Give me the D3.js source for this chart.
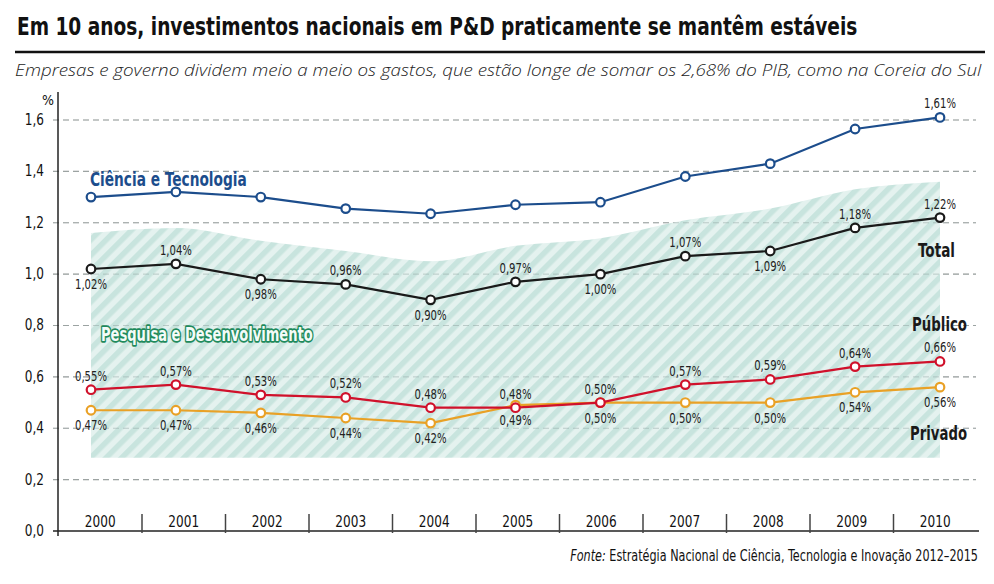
<!DOCTYPE html>
<html><head><meta charset="utf-8">
<script src="https://cdn.jsdelivr.net/npm/d3@7"></script>
<style>
body{margin:0;background:#fff;}
svg{display:block;}
</style></head>
<body>
<svg id="chart" width="994" height="584"></svg>
<script>
const years = ["2000","2001","2002","2003","2004","2005","2006","2007","2008","2009","2010"];
const cienciaTecnologia = [1.30,1.32,1.30,1.255,1.235,1.27,1.28,1.38,1.43,1.565,1.61];
const total   = [1.02,1.04,0.98,0.96,0.90,0.97,1.00,1.07,1.09,1.18,1.22];
const publico = [0.55,0.57,0.53,0.52,0.48,0.48,0.50,0.57,0.59,0.64,0.66];
const privado = [0.47,0.47,0.46,0.44,0.42,0.49,0.50,0.50,0.50,0.54,0.56];
const rdBandTop = [1.16,1.18,1.13,1.09,1.05,1.11,1.14,1.21,1.255,1.33,1.36];
const rdBandBottom = [0.285,0.285,0.285,0.285,0.285,0.285,0.285,0.285,0.285,0.285,0.285];
const yTicks = [0,0.2,0.4,0.6,0.8,1.0,1.2,1.4,1.6];
const totalLabelAbove = [false,true,false,true,false,true,false,true,false,true,true];

const COND = "'DejaVu Sans Condensed','Liberation Sans Narrow',sans-serif";
const SQ = 0.84;
const svg = d3.select("#chart");

const x = d3.scalePoint().domain(years).range([91, 940]);
const xb = d3.scaleBand().domain(years).range([58.5, 977]);
const y = d3.scaleLinear().domain([0, 1.6]).range([531, 120]);

// horizontal squeeze about the anchor x
function squeezeBy(sel, f){
  sel.each(function(){
    const n = d3.select(this); const ax = +n.attr("x");
    n.attr("transform", `translate(${ax},0) scale(${f},1) translate(${-ax},0)`);
  });
  return sel;
}
function fitWidth(sel, w){
  const l = sel.node().getComputedTextLength();
  return squeezeBy(sel, l>0 ? w/l : 1);
}

// Title
const t = svg.append("text").attr("x",17).attr("y",35).attr("font-family",COND)
  .attr("font-weight","bold").attr("font-size",25).attr("fill","#111")
  .text("Em 10 anos, investimentos nacionais em P&D praticamente se mantêm estáveis");
fitWidth(t, 841);
svg.append("line").attr("x1",15).attr("x2",985).attr("y1",52).attr("y2",52).attr("stroke","#111").attr("stroke-width",2.5);
const st = svg.append("text").attr("x",15).attr("y",76).attr("font-family","'Open Sans','Noto Sans',sans-serif")
  .attr("font-style","italic").attr("font-weight",300).attr("font-size",17).attr("fill","#222")
  .text("Empresas e governo dividem meio a meio os gastos, que estão longe de somar os 2,68% do PIB, como na Coreia do Sul");
fitWidth(st, 967);

// pattern
const defs = svg.append("defs");
const pat = defs.append("pattern").attr("id","hatch").attr("patternUnits","userSpaceOnUse")
  .attr("width",11).attr("height",11).attr("patternTransform","rotate(45)");
pat.append("rect").attr("width",11).attr("height",11).attr("fill","#e4f2ef");
pat.append("rect").attr("width",5.5).attr("height",11).attr("fill","#c8e4de");

// grid
svg.append("g").selectAll("line").data(yTicks.filter(d=>d>0)).join("line")
  .attr("x1",53).attr("x2",976).attr("y1",d=>y(d)).attr("y2",d=>y(d))
  .attr("stroke","#a9a9a9").attr("stroke-width",1.2).attr("stroke-dasharray","6,4");

// R&D band
const bandData = years.map((yr,i)=>({yr, top:rdBandTop[i], bot:rdBandBottom[i]}));
svg.append("path").datum(bandData)
  .attr("d", d3.area().x(d=>x(d.yr)).y0(d=>y(d.bot)).y1(d=>y(d.top)).curve(d3.curveMonotoneX))
  .attr("fill","url(#hatch)");

// grid over band faint
svg.append("g").selectAll("line").data(yTicks.filter(d=>d>0)).join("line")
  .attr("x1",53).attr("x2",976).attr("y1",d=>y(d)).attr("y2",d=>y(d))
  .attr("stroke","#8a9c98").attr("stroke-opacity",0.45).attr("stroke-width",1).attr("stroke-dasharray","6,4");

// axes
svg.append("line").attr("x1",58).attr("x2",58).attr("y1",92).attr("y2",536).attr("stroke","#222").attr("stroke-width",1.5);
svg.append("line").attr("x1",53).attr("x2",979).attr("y1",531).attr("y2",531).attr("stroke","#222").attr("stroke-width",1.5);
svg.append("g").selectAll("line").data(years.slice(1)).join("line")
  .attr("x1",d=>xb(d)).attr("x2",d=>xb(d)).attr("y1",514).attr("y2",533)
  .attr("stroke","#444").attr("stroke-width",1.5);
squeezeBy(svg.append("g").selectAll("text").data(years).join("text")
  .attr("x",d=>xb(d)+xb.bandwidth()/2).attr("y",527).attr("text-anchor","middle")
  .attr("font-family",COND).attr("font-size",16).attr("fill","#111").text(d=>d), SQ);
squeezeBy(svg.append("g").selectAll("text").data(yTicks).join("text")
  .attr("x",44).attr("y",d=>y(d)+5).attr("text-anchor","end")
  .attr("font-family",COND).attr("font-size",16).attr("fill","#111")
  .text(d=>d3.format(".1f")(d).replace(".",",")), SQ);
svg.append("text").attr("x",48).attr("y",105).attr("text-anchor","middle")
  .attr("font-family",COND).attr("font-size",14).attr("fill","#111").text("%");

// series
const fmt = v => d3.format(".2f")(v).replace(".",",")+"%";
function series(vals, color){
  const d = years.map((yr,i)=>({yr, v:vals[i]}));
  svg.append("path").datum(d).attr("d", d3.line().x(p=>x(p.yr)).y(p=>y(p.v)))
    .attr("fill","none").attr("stroke",color).attr("stroke-width",2.2);
  svg.append("g").selectAll("circle").data(d).join("circle")
    .attr("cx",p=>x(p.yr)).attr("cy",p=>y(p.v)).attr("r",4.3)
    .attr("fill","#fff").attr("stroke",color).attr("stroke-width",2.2);
  return d;
}
function labels(vals, aboveArr, filterIdx){
  const sel = svg.append("g").selectAll("text").data(years.map((yr,i)=>({yr,v:vals[i],i})).filter(p=>!filterIdx||filterIdx.includes(p.i))).join("text")
    .attr("x",p=>x(p.yr)).attr("y",p=> aboveArr[p.i] ? y(p.v)-9 : y(p.v)+20)
    .attr("text-anchor","middle").attr("font-family",COND).attr("font-size",14).attr("fill","#222")
    .text(p=>fmt(p.v));
  squeezeBy(sel, 0.8);
}
series(cienciaTecnologia, "#1c4d8c");
series(total, "#1a1a1a");
series(privado, "#e9a126");
series(publico, "#d0112b");

labels(cienciaTecnologia, years.map(()=>true), [10]);
labels(total, totalLabelAbove);
labels(publico, years.map(()=>true));
labels(privado, years.map(()=>false));

// series names
fitWidth(svg.append("text").attr("x",90).attr("y",186).attr("font-family",COND).attr("font-weight","bold")
  .attr("font-size",19.5).attr("fill","#1c4d8c").text("Ciência e Tecnologia"), 157);
fitWidth(svg.append("text").attr("x",955).attr("y",257).attr("text-anchor","end").attr("font-family",COND).attr("font-weight","bold")
  .attr("font-size",19.5).attr("fill","#1a1a1a").text("Total"), 37);
fitWidth(svg.append("text").attr("x",967).attr("y",331).attr("text-anchor","end").attr("font-family",COND).attr("font-weight","bold")
  .attr("font-size",19.5).attr("fill","#1a1a1a").text("Público"), 55);
fitWidth(svg.append("text").attr("x",967).attr("y",440).attr("text-anchor","end").attr("font-family",COND).attr("font-weight","bold")
  .attr("font-size",19.5).attr("fill","#1a1a1a").text("Privado"), 57);
fitWidth(svg.append("text").attr("x",101).attr("y",341).attr("font-family",COND).attr("font-weight","bold")
  .attr("font-size",19.5).attr("fill","#f4fbf8").attr("stroke","#1e8a5c").attr("stroke-width",3.4)
  .attr("paint-order","stroke").attr("stroke-linejoin","round").text("Pesquisa e Desenvolvimento"), 212);

// source
const src = svg.append("text").attr("x",978).attr("y",561).attr("text-anchor","end")
  .attr("font-family",COND).attr("font-size",15.5).attr("fill","#111");
src.append("tspan").attr("font-style","italic").text("Fonte:");
src.append("tspan").text(" Estratégia Nacional de Ciência, Tecnologia e Inovação 2012–2015");
fitWidth(src, 408);
</script>
</body></html>
